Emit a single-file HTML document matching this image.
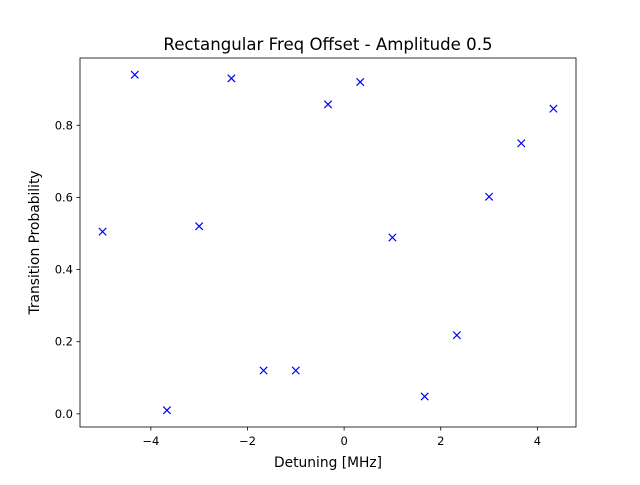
<!DOCTYPE html>
<html><head><meta charset="utf-8"><style>
body{margin:0;background:#fff;}
svg text{font-family:"DejaVu Sans","Liberation Sans",sans-serif;}
</style></head><body>
<svg id="chart" width="640" height="480" xmlns="http://www.w3.org/2000/svg">
<rect width="640" height="480" fill="#fff"/>
<text x="328" y="50" font-size="16.6" text-anchor="middle">Rectangular Freq Offset - Amplitude 0.5</text>
<g id="marks"></g>
<g id="axes"></g>
<rect x="80" y="58" width="496" height="369" fill="none" stroke="#000" stroke-width="0.8"/>
<text x="328" y="467" font-size="13.8" text-anchor="middle">Detuning [MHz]</text>
<text transform="translate(39,242.5) rotate(-90)" font-size="13.8" text-anchor="middle">Transition Probability</text>
</svg>
<script>
const detuning = [-5, -4.333, -3.667, -3, -2.333, -1.667, -1, -0.333, 0.333, 1, 1.667, 2.333, 3, 3.667, 4.333];
const probability = [0.505, 0.94, 0.01, 0.52, 0.93, 0.12, 0.12, 0.858, 0.92, 0.489, 0.048, 0.218, 0.602, 0.75, 0.846];
const xTicks = [-4, -2, 0, 2, 4];
const yTicks = [0.0, 0.2, 0.4, 0.6, 0.8];
const yTickLabels = ["0.0", "0.2", "0.4", "0.6", "0.8"];
const X0=80, X1=576, Y0=427, Y1=58;
const xmin0=Math.min(...detuning), xmax0=Math.max(...detuning);
const ymin0=Math.min(...probability), ymax0=Math.max(...probability);
const xm=(xmax0-xmin0)*0.05, ym=(ymax0-ymin0)*0.05;
const xmin=xmin0-xm, xmax=xmax0+xm, ymin=ymin0-ym, ymax=ymax0+ym;
const sx=v=>X0+(v-xmin)/(xmax-xmin)*(X1-X0);
const sy=v=>Y0-(v-ymin)/(ymax-ymin)*(Y0-Y1);
const NS="http://www.w3.org/2000/svg";
const marks=document.getElementById('marks'), axes=document.getElementById('axes');
function mk(tag,attrs,parent){const e=document.createElementNS(NS,tag);for(const k in attrs)e.setAttribute(k,attrs[k]);parent.appendChild(e);return e;}
detuning.forEach((d,i)=>{
  const cx=sx(d), cy=sy(probability[i]), s=3.7;
  const g=mk('path',{d:`M${cx-s},${cy-s}L${cx+s},${cy+s}M${cx-s},${cy+s}L${cx+s},${cy-s}`,stroke:'#0000ff','stroke-width':1.2,fill:'none'},marks);
  
  
});
xTicks.forEach(t=>{
  const x=sx(t);
  const l=mk('line',{x1:x,x2:x,y1:Y0,y2:Y0+3.5,stroke:'#000','stroke-width':0.8},axes);
  
  
  const tx=mk('text',{x:x,y:Y0+18,'font-size':11.5,'text-anchor':'middle'},axes);
  tx.textContent=(t<0?'\u2212':'')+Math.abs(t);
  
  
});
yTicks.forEach((t,i)=>{
  const y=sy(t);
  const l=mk('line',{x1:X0-3.5,x2:X0,y1:y,y2:y,stroke:'#000','stroke-width':0.8},axes);
  
  
  const tx=mk('text',{x:X0-7,y:y+4,'font-size':11.5,'text-anchor':'end'},axes);
  tx.textContent=yTickLabels[i];
  
  
});
</script>
</body></html>
